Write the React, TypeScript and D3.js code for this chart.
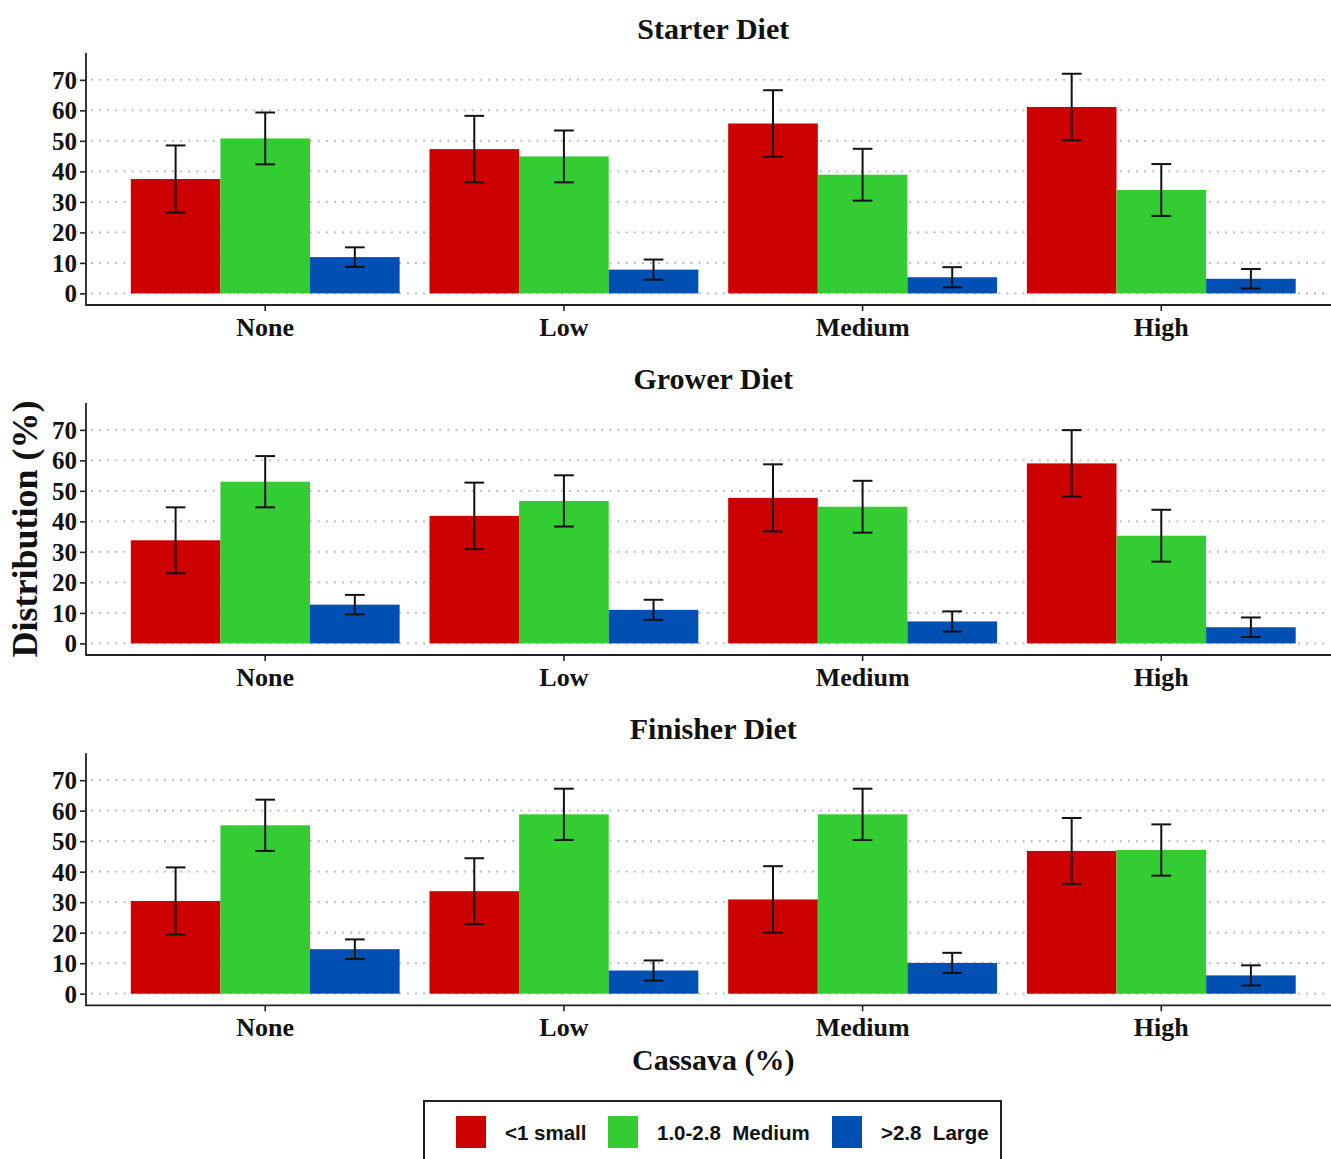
import React, { useEffect, useRef } from "react";
import * as d3 from "d3";

// Cassava inclusion levels (x categories)
const cassava = ["None", "Low", "Medium", "High"];
// particle size classes (legend)
const sizes = ["<1 small", "1.0-2.8  Medium", ">2.8  Large"];
const sizeColours = ["#CC0000", "#33CC33", "#0050B4"];
const diets = ["Starter Diet", "Grower Diet", "Finisher Diet"];
const yTicks = [0, 10, 20, 30, 40, 50, 60, 70];

// Distribution (%) means, order None, Low, Medium, High
const starterSmall = [37.5, 47.3, 55.7, 61.1];
const starterMedium = [50.8, 44.9, 38.9, 33.9];
const starterLarge = [11.9, 7.8, 5.3, 4.8];
const growerSmall = [33.8, 41.8, 47.7, 59.0];
const growerMedium = [53.0, 46.7, 44.8, 35.3];
const growerLarge = [12.7, 11.0, 7.2, 5.3];
const finisherSmall = [30.4, 33.6, 30.9, 46.8];
const finisherMedium = [55.2, 58.8, 58.8, 47.1];
const finisherLarge = [14.6, 7.6, 10.1, 6.0];

// error bar half widths
const starterSmallErr = [11.0, 10.9, 10.9, 10.9];
const starterMediumErr = [8.5, 8.5, 8.5, 8.5];
const starterLargeErr = [3.2, 3.3, 3.3, 3.2];
const growerSmallErr = [10.8, 10.9, 11.0, 10.9];
const growerMediumErr = [8.4, 8.4, 8.5, 8.5];
const growerLargeErr = [3.2, 3.3, 3.3, 3.2];
const finisherSmallErr = [11.0, 10.8, 10.9, 10.8];
const finisherMediumErr = [8.4, 8.4, 8.4, 8.4];
const finisherLargeErr = [3.2, 3.3, 3.3, 3.3];

const dietMeans = [
  [starterSmall, starterMedium, starterLarge],
  [growerSmall, growerMedium, growerLarge],
  [finisherSmall, finisherMedium, finisherLarge],
];
const dietErrs = [
  [starterSmallErr, starterMediumErr, starterLargeErr],
  [growerSmallErr, growerMediumErr, growerLargeErr],
  [finisherSmallErr, finisherMediumErr, finisherLargeErr],
];

const W = 1331;
const H = 1159;
const serif = "'Liberation Serif', 'Times New Roman', serif";
const sans = "'Liberation Sans', Arial, sans-serif";

function drawChart(node: SVGSVGElement) {
  const svg = d3.select(node);
  svg.selectAll("*").remove();

  const left = 86;
  const right = 1340.5;
  const panelTops = [53, 403, 753.3];
  const panelH = 252;

  const x = d3
    .scaleBand<string>()
    .domain(cassava)
    .range([left, right])
    .paddingInner(0.1)
    .paddingOuter(0.15);

  const xSub = d3.scaleBand<string>().domain(sizes).range([0, x.bandwidth()]);

  diets.forEach((diet, di) => {
    const top = panelTops[di];
    const bottom = top + panelH;
    const y = d3.scaleLinear().domain([-3.8, 78.8]).range([bottom, top]);

    const g = svg.append("g");

    // dotted grid
    g.selectAll(".grid")
      .data(yTicks)
      .enter()
      .append("line")
      .attr("x1", left + 6)
      .attr("x2", W)
      .attr("y1", (d) => y(d))
      .attr("y2", (d) => y(d))
      .attr("stroke", "#bdbdbd")
      .attr("stroke-width", 2.2)
      .attr("stroke-linecap", "round")
      .attr("stroke-dasharray", "0.1 8");

    // bars
    const groups = g
      .selectAll(".grp")
      .data(cassava)
      .enter()
      .append("g")
      .attr("transform", (c) => `translate(${x(c)},0)`);

    sizes.forEach((s, si) => {
      groups
        .append("rect")
        .attr("x", xSub(s)!)
        .attr("width", xSub.bandwidth())
        .attr("y", (c, ci) => y(dietMeans[di][si][ci]))
        .attr("height", (c, ci) => y(0) - y(dietMeans[di][si][ci]))
        .attr("fill", sizeColours[si]);
    });

    // error bars
    const capW = xSub.bandwidth() * 0.22;
    sizes.forEach((s, si) => {
      groups.each(function (c, ci) {
        const m = dietMeans[di][si][ci];
        const e = dietErrs[di][si][ci];
        const cx = xSub(s)! + xSub.bandwidth() / 2;
        const eg = d3.select(this).append("g").attr("stroke", "#111").attr("stroke-width", 2);
        eg.append("line").attr("x1", cx).attr("x2", cx).attr("y1", y(m + e)).attr("y2", y(m - e));
        eg.append("line").attr("x1", cx - capW / 2).attr("x2", cx + capW / 2).attr("y1", y(m + e)).attr("y2", y(m + e));
        eg.append("line").attr("x1", cx - capW / 2).attr("x2", cx + capW / 2).attr("y1", y(m - e)).attr("y2", y(m - e));
      });
    });

    // y axis
    const yAxis = g
      .append("g")
      .attr("transform", `translate(${left},0)`)
      .call(d3.axisLeft(y).tickValues(yTicks).tickSize(6).tickSizeOuter(0).tickPadding(3));
    yAxis.select(".domain").remove();
    yAxis.selectAll(".tick line").attr("stroke", "#222").attr("stroke-width", 1.6);
    yAxis
      .selectAll(".tick text")
      .attr("fill", "#111")
      .attr("font-family", serif)
      .attr("font-weight", "bold")
      .attr("font-size", 25)
      .attr("dy", "0.34em");

    // x axis
    const xAxis = g
      .append("g")
      .attr("transform", `translate(0,${bottom})`)
      .call(d3.axisBottom(x).tickSize(6).tickSizeOuter(0).tickPadding(4));
    xAxis.select(".domain").remove();
    xAxis.selectAll(".tick line").attr("stroke", "#222").attr("stroke-width", 1.6);
    xAxis
      .selectAll(".tick text")
      .attr("fill", "#111")
      .attr("font-family", serif)
      .attr("font-weight", "bold")
      .attr("font-size", 26)
      .attr("dy", "0.8em");

    // axis lines
    g.append("path")
      .attr("d", `M${left},${top}V${bottom}H${right}`)
      .attr("fill", "none")
      .attr("stroke", "#222")
      .attr("stroke-width", 1.8);

    // panel title
    g.append("text")
      .attr("x", (left + right) / 2)
      .attr("y", top - 14)
      .attr("text-anchor", "middle")
      .attr("font-family", serif)
      .attr("font-weight", "bold")
      .attr("font-size", 30)
      .attr("fill", "#111")
      .text(diet);
  });

  // axis titles
  svg
    .append("text")
    .attr("x", (left + right) / 2)
    .attr("y", 1070)
    .attr("text-anchor", "middle")
    .attr("font-family", serif)
    .attr("font-weight", "bold")
    .attr("font-size", 30)
    .attr("fill", "#111")
    .text("Cassava (%)");

  svg
    .append("text")
    .attr("transform", `translate(37,529) rotate(-90)`)
    .attr("text-anchor", "middle")
    .attr("font-family", serif)
    .attr("font-weight", "bold")
    .attr("font-size", 36)
    .attr("fill", "#111")
    .text("Distribution (%)");

  // legend
  const legend = svg.append("g");
  legend
    .append("rect")
    .attr("x", 424)
    .attr("y", 1101)
    .attr("width", 577)
    .attr("height", 80)
    .attr("fill", "white")
    .attr("stroke", "#222")
    .attr("stroke-width", 2);

  const keyX = [456, 608, 832];
  sizes.forEach((s, si) => {
    legend
      .append("rect")
      .attr("x", keyX[si])
      .attr("y", 1116)
      .attr("width", 30)
      .attr("height", 32)
      .attr("fill", sizeColours[si]);
    legend
      .append("text")
      .attr("x", keyX[si] + 49)
      .attr("y", 1140)
      .attr("font-family", sans)
      .attr("font-weight", "bold")
      .attr("font-size", 20.5)
      .attr("fill", "#111")
      .attr("xml:space", "preserve")
      .style("white-space", "pre")
      .text(s);
  });
}

export default function App() {
  const ref = useRef<SVGSVGElement>(null);

  useEffect(() => {
    if (ref.current) drawChart(ref.current);
  }, []);

  return (
    <svg
      ref={ref}
      width={W}
      height={H}
      style={{ position: "absolute", left: 0, top: 0, background: "white" }}
    />
  );
}
